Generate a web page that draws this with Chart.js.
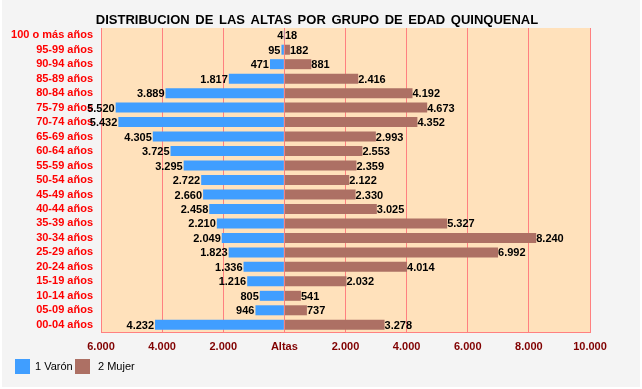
<!DOCTYPE html>
<html>
<head>
<meta charset="utf-8">
<script src="https://cdn.jsdelivr.net/npm/chart.js@4.4.1/dist/chart.umd.min.js"></script>
<style>
  body { margin: 0; background: #ffffff; }
  #wrap { width: 642px; height: 389px; }
</style>
</head>
<body>
<div id="wrap"><canvas id="altasChart" width="642" height="389"></canvas></div>
<script>
// Age groups, top to bottom
const ageGroups = ['100 o más años', '95-99 años', '90-94 años', '85-89 años', '80-84 años',
  '75-79 años', '70-74 años', '65-69 años', '60-64 años', '55-59 años', '50-54 años',
  '45-49 años', '40-44 años', '35-39 años', '30-34 años', '25-29 años', '20-24 años',
  '15-19 años', '10-14 años', '05-09 años', '00-04 años'];

const varonValues = [4, 95, 471, 1817, 3889, 5520, 5432, 4305, 3725, 3295, 2722,
  2660, 2458, 2210, 2049, 1823, 1336, 1216, 805, 946, 4232];

const mujerValues = [18, 182, 881, 2416, 4192, 4673, 4352, 2993, 2553, 2359, 2122,
  2330, 3025, 5327, 8240, 6992, 4014, 2032, 541, 737, 3278];

const axisMin = -6000;
const axisMax = 10000;
const axisStep = 2000;
const zeroLabel = 'Altas';
const chartTitle = 'DISTRIBUCION DE LAS ALTAS POR GRUPO DE EDAD QUINQUENAL';

const BLUE = '#409eff';
const BROWN = '#ad7064';
const GRID_RED = '#ff8080';

function fmt(n) {
  return String(Math.abs(n)).replace(/\B(?=(\d{3})+(?!\d))/g, '.');
}

// Gray background + peach plot area
const backgroundPlugin = {
  id: 'backgrounds',
  beforeDraw(chart) {
    const { ctx, chartArea } = chart;
    ctx.save();
    ctx.fillStyle = '#f4f4f4';
    ctx.fillRect(2, 0, chart.width - 4, chart.height - 2);
    ctx.fillStyle = '#ffe1bb';
    ctx.fillRect(chartArea.left, chartArea.top,
      chartArea.right - chartArea.left, chartArea.bottom - chartArea.top);
    ctx.restore();
  }
};

// Values at the end of each bar
const valueLabelsPlugin = {
  id: 'valueLabels',
  afterDatasetsDraw(chart) {
    const ctx = chart.ctx;
    ctx.save();
    ctx.font = 'bold 11px "Liberation Sans", Arial, sans-serif';
    ctx.fillStyle = '#000000';
    ctx.textBaseline = 'middle';
    chart.data.datasets.forEach((ds, i) => {
      const meta = chart.getDatasetMeta(i);
      meta.data.forEach((bar, j) => {
        const v = ds.data[j];
        if (v < 0) {
          ctx.textAlign = 'right';
          ctx.fillText(fmt(v), bar.x - 1, bar.y + 1);
        } else {
          ctx.textAlign = 'left';
          ctx.fillText(fmt(v), bar.x, bar.y + 1);
        }
      });
    });
    ctx.restore();
  }
};

// Title and legend
const titleLegendPlugin = {
  id: 'titleLegend',
  afterDraw(chart) {
    const ctx = chart.ctx;
    ctx.save();
    ctx.font = 'bold 13px "Liberation Sans", Arial, sans-serif';
    ctx.wordSpacing = '2px';
    ctx.fillStyle = '#000000';
    ctx.textAlign = 'center';
    ctx.textBaseline = 'middle';
    ctx.fillText(chartTitle, 317, 20);
    ctx.wordSpacing = '0px';

    ctx.font = '11px "Liberation Sans", Arial, sans-serif';
    ctx.textAlign = 'left';
    let x = 15;
    chart.data.datasets.forEach((ds, i) => {
      ctx.fillStyle = ds.backgroundColor;
      ctx.fillRect(x, 359, 15, 15);
      ctx.fillStyle = '#000000';
      ctx.fillText(ds.label, x + 20 + i * 3, 367);
      x += 60;
    });
    ctx.restore();
  }
};

new Chart(document.getElementById('altasChart'), {
  type: 'bar',
  data: {
    labels: ageGroups,
    datasets: [
      {
        label: '1 Varón',
        data: varonValues.map(v => -v),
        backgroundColor: BLUE,
        borderWidth: 0,
        categoryPercentage: 1,
        barPercentage: 0.69
      },
      {
        label: '2 Mujer',
        data: mujerValues,
        backgroundColor: BROWN,
        borderWidth: 0,
        categoryPercentage: 1,
        barPercentage: 0.69
      }
    ]
  },
  options: {
    indexAxis: 'y',
    responsive: false,
    animation: false,
    layout: {
      padding: { left: 0, right: 52, top: 28, bottom: 32 }
    },
    plugins: {
      legend: { display: false },
      title: { display: false },
      tooltip: { enabled: false }
    },
    scales: {
      x: {
        stacked: true,
        min: axisMin,
        max: axisMax,
        afterFit: scale => { scale.height = 25; },
        grid: {
          color: GRID_RED,
          lineWidth: 1,
          drawTicks: false
        },
        border: { display: true, color: GRID_RED },
        ticks: {
          stepSize: axisStep,
          padding: 8,
          color: '#800000',
          font: { family: '"Liberation Sans", Arial, sans-serif', size: 11, weight: 'bold' },
          callback: value => value === 0 ? zeroLabel : fmt(value)
        }
      },
      y: {
        stacked: true,
        afterFit: scale => { scale.width = 101; },
        grid: { display: false, drawTicks: false },
        border: { display: true, color: GRID_RED },
        ticks: {
          padding: 8,
          color: '#ff0000',
          autoSkip: false,
          font: { family: '"Liberation Sans", Arial, sans-serif', size: 11, weight: 'bold' }
        }
      }
    }
  },
  plugins: [backgroundPlugin, valueLabelsPlugin, titleLegendPlugin]
});
</script>
</body>
</html>
